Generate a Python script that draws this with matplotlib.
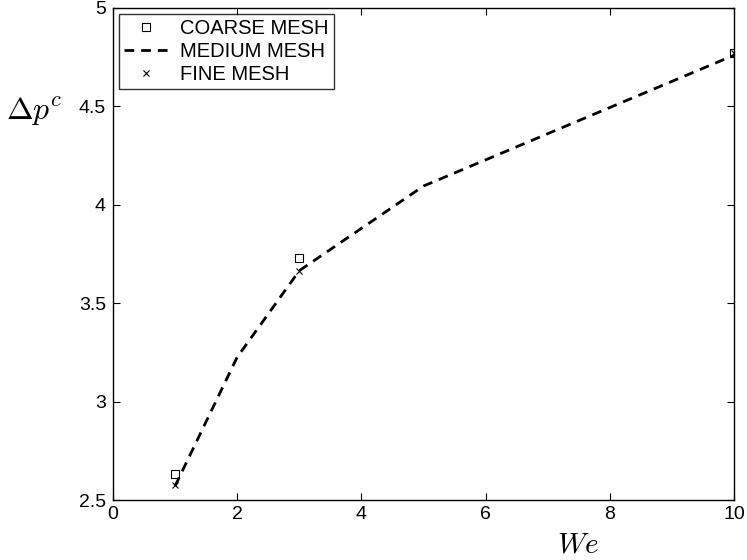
import matplotlib
matplotlib.use('Agg')
import matplotlib.pyplot as plt

plt.rcParams['font.family'] = ['Liberation Sans', 'DejaVu Sans']
plt.rcParams['mathtext.fontset'] = 'cm'

# 数据
we_medium = [1, 2, 3, 5, 10]
dp_medium = [2.57, 3.225, 3.665, 4.095, 4.76]
we_coarse = [1, 3, 10]
dp_coarse = [2.632, 3.728, 4.77]
we_fine = [1, 3, 10]
dp_fine = [2.575, 3.665, 4.77]

fig = plt.figure(figsize=(7.47, 5.6), dpi=100)
ax = fig.add_axes([0.151, 0.107, 0.832, 0.879])

ax.plot(we_coarse, dp_coarse, 's', markerfacecolor='none', markeredgecolor='black',
        markersize=6, markeredgewidth=0.8, label='COARSE MESH')
ax.plot(we_medium, dp_medium, '--', color='black', linewidth=2, dashes=(3.5, 2.5),
        label='MEDIUM MESH')
ax.plot(we_fine, dp_fine, 'x', color='black', markersize=5, markeredgewidth=0.8,
        label='FINE MESH')

ax.set_xlim(0, 10)
ax.set_ylim(2.5, 5)
ax.set_xticks([0, 2, 4, 6, 8, 10])
ax.set_yticks([2.5, 3, 3.5, 4, 4.5, 5])
ax.set_yticklabels(['2.5', '3', '3.5', '4', '4.5', '5'])
ax.tick_params(direction='in', labelsize=14, length=5, top=True, right=True)
ax.tick_params(axis='x', pad=4)
ax.tick_params(axis='y', pad=5)
for s in ax.spines.values():
    s.set_linewidth(1)

fig.text(0.046, 0.800, r'$\Delta p^c$', fontsize=23, ha='center', va='center')
fig.text(0.774, 0.027, r'$We$', fontsize=21, ha='center', va='center')

leg = ax.legend(loc='upper left', fontsize=14.5, frameon=True, fancybox=False,
                edgecolor='black', borderaxespad=0.3, handlelength=2.2,
                handletextpad=0.6, labelspacing=0.2, borderpad=0.25)
leg.get_frame().set_linewidth(1)

plt.savefig('out.png', dpi=100)
plt.close()
